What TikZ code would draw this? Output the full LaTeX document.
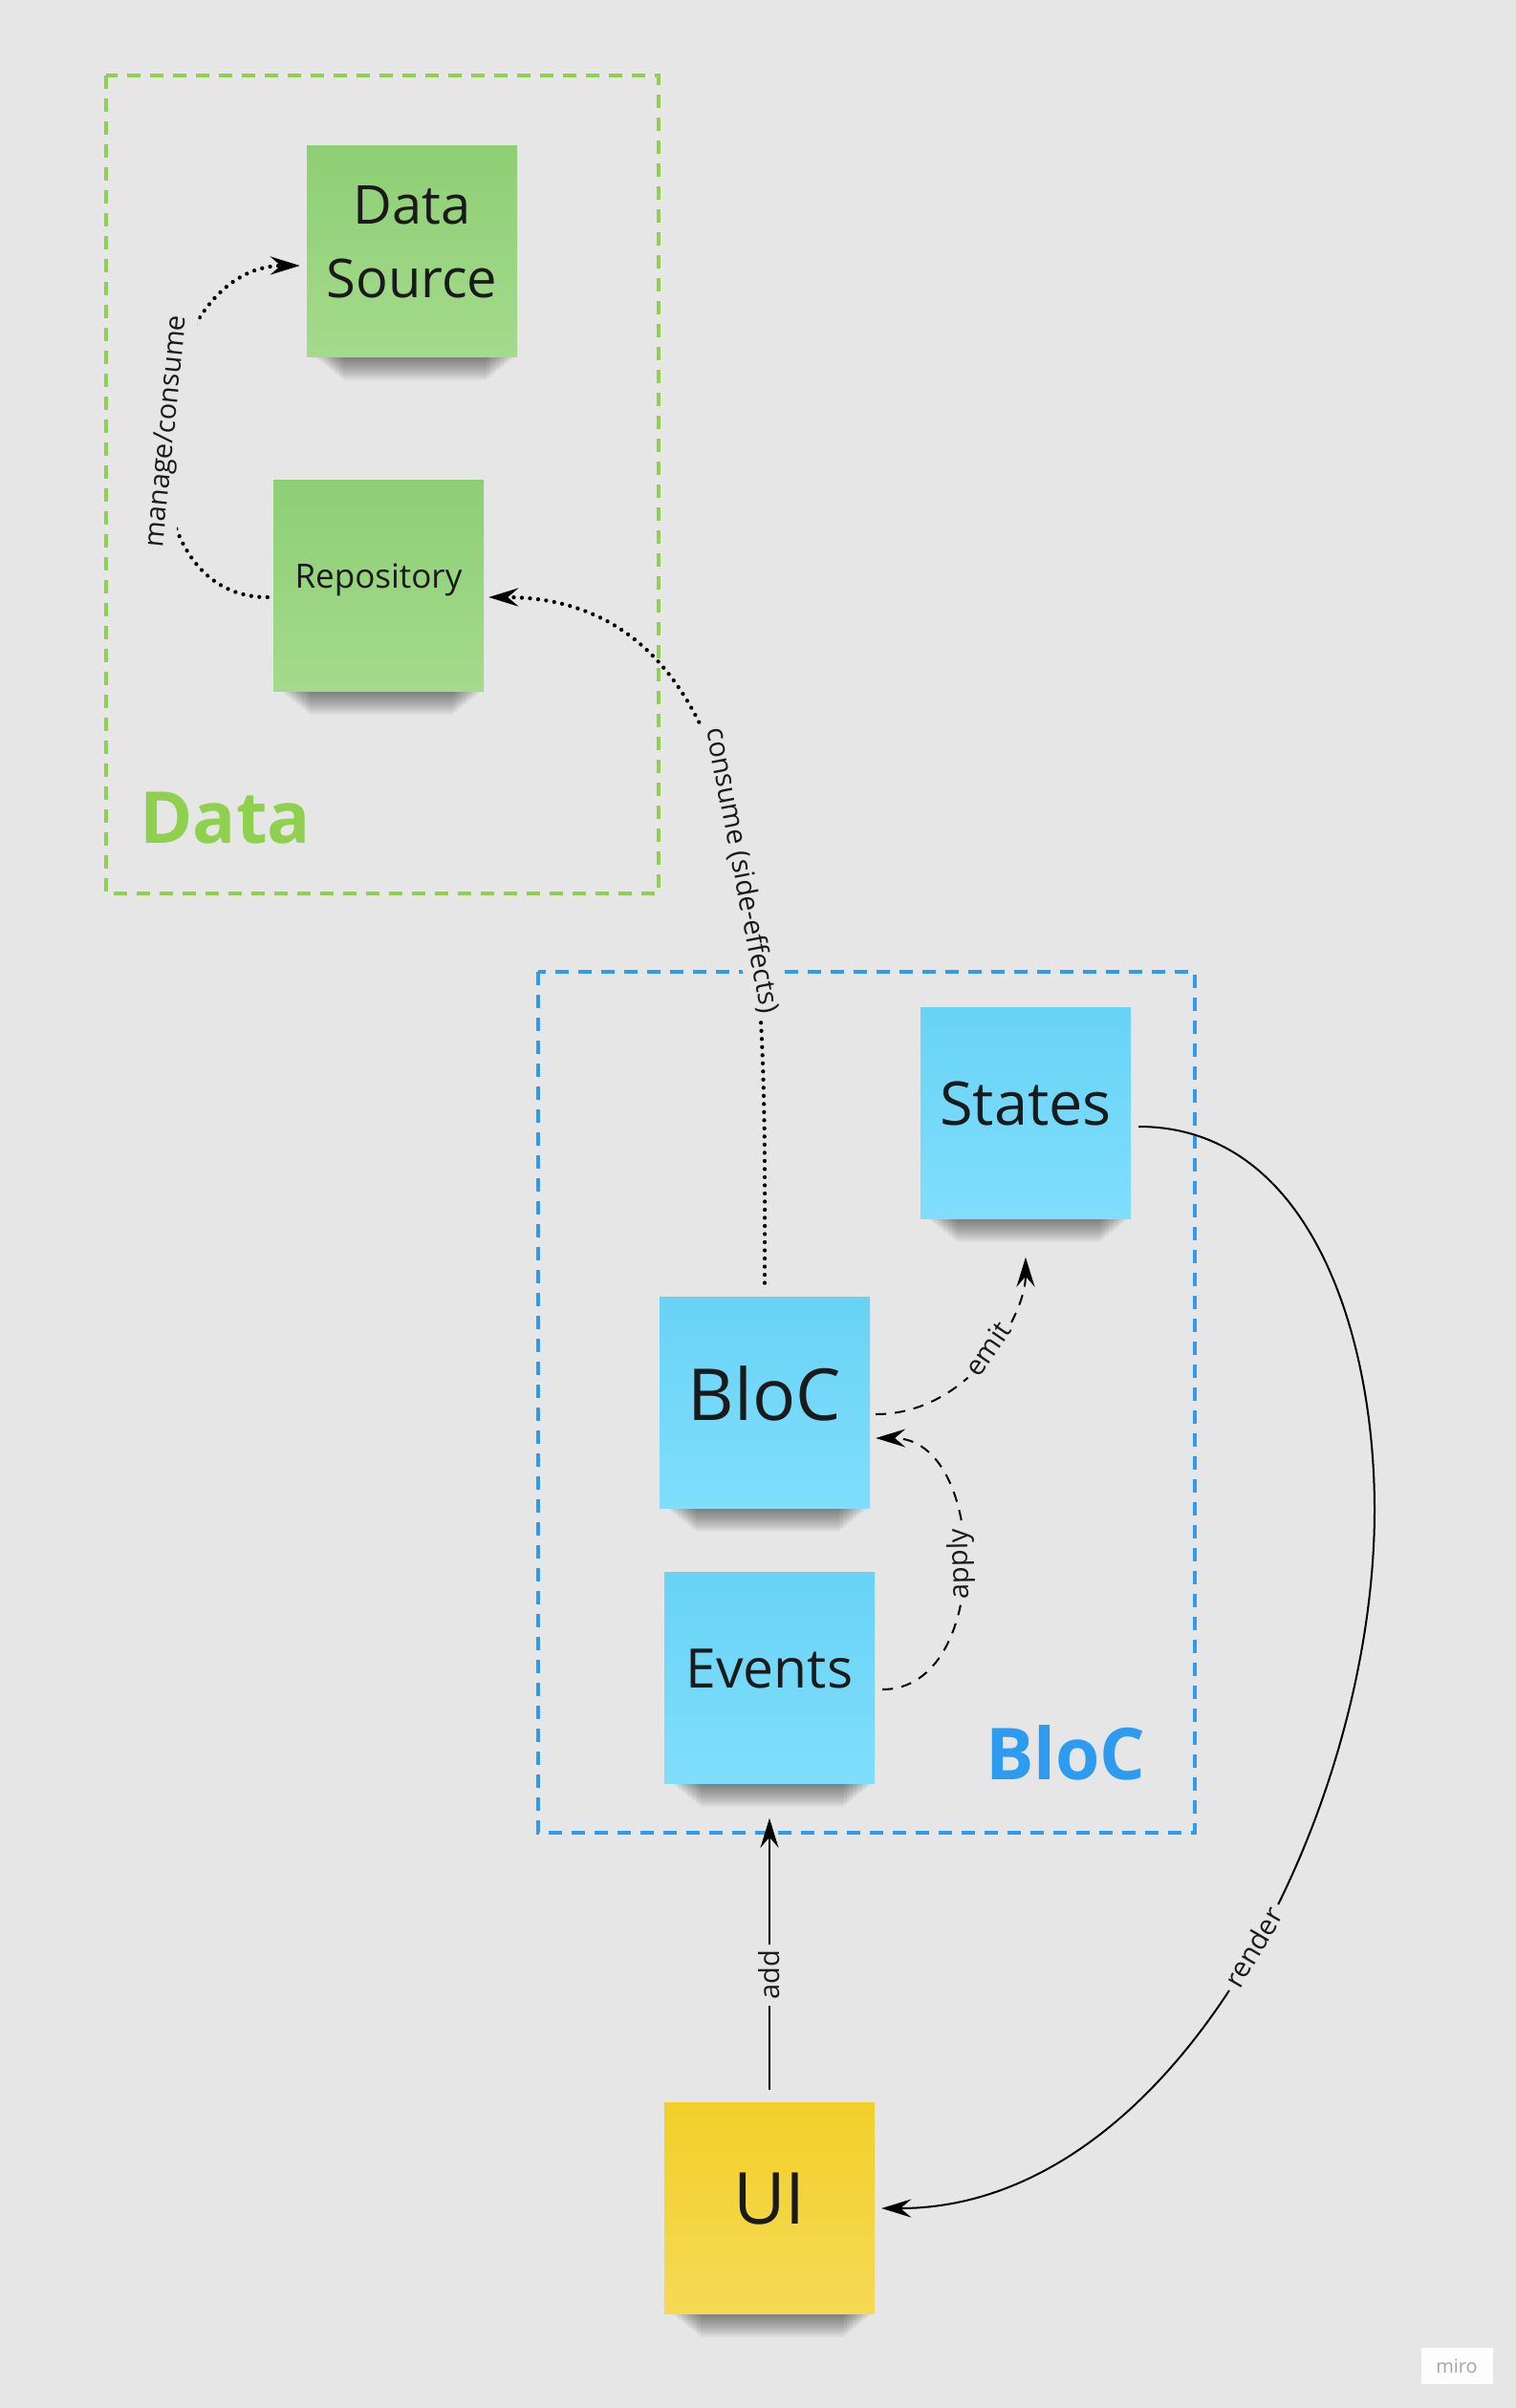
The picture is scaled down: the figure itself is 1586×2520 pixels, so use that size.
\documentclass[tikz,border=0pt]{standalone}
\usepackage{fontspec}
\setmainfont{Open Sans}
\usetikzlibrary{arrows.meta}

\definecolor{board}{HTML}{E6E6E6}
\definecolor{ink}{HTML}{1A1A1A}
\definecolor{greentop}{HTML}{8ECF75}
\definecolor{greenbot}{HTML}{A4DA8C}
\definecolor{bluetop}{HTML}{68D3F6}
\definecolor{bluebot}{HTML}{80DEFC}
\definecolor{yellowtop}{HTML}{F2CF2A}
\definecolor{yellowbot}{HTML}{F6DA55}
\definecolor{datagreen}{HTML}{8FD14F}
\definecolor{blocblue}{HTML}{2D9BF0}

\begin{document}
\begin{tikzpicture}[
  x = 1pt,
  y = 1pt,
  note/.style = {
    shape = rectangle,
    minimum width = 220pt,
    minimum height = 221pt,
    inner sep = 0pt,
    align = center,
    text = ink,
    text depth = 20pt,
  },
  greennote/.style = {note, top color = greentop, bottom color = greenbot},
  bluenote/.style = {note, top color = bluetop, bottom color = bluebot},
  yellownote/.style = {note, top color = yellowtop, bottom color = yellowbot},
  frame/.style = {
    line width = 3.5pt,
    dash pattern = on 14pt off 10pt
  },
  link/.style = {
    line width = 2pt,
    -{Stealth[length = 31pt, width = 19pt, inset = 11pt]}
  },
  backlink/.style = {
    line width = 2pt,
    {Stealth[length = 31pt, width = 19pt, inset = 11pt]}-
  },
  dots/.style = {
    line width = 4.3pt,
    line cap = round,
    dash pattern = on 0.01pt off 8.5pt
  },
  dashes/.style = {
    dash pattern = on 11pt off 9pt
  },
  lbl/.style = {
    font = \fontsize{29}{34}\selectfont,
    text = ink,
    fill = board,
    inner sep = 6pt,
    sloped
  }
]
  \useasboundingbox[fill = board] (0, 0) rectangle (1586, -2520);

  % the two groups
  \draw[frame, datagreen] (111, -79) rectangle (689, -935);
  \draw[frame, blocblue] (563, -1017) rectangle (1250, -1918);

  \node[anchor = base west, inner sep = 0pt, text = datagreen,
    font = \fontsize{75}{80}\selectfont\bfseries] (datatitle) at (146, -882) {Data};
  \node[anchor = base west, inner sep = 0pt, text = blocblue,
    font = \fontsize{75}{80}\selectfont\bfseries] (bloctitle) at (1031, -1862) {BloC};

  % sticky notes
  \node[greennote, font = \fontsize{56}{77}\selectfont] (ds) at (431, -263) {Data\\Source};
  \node[greennote, font = \fontsize{35}{40}\selectfont] (repo) at (396, -613) {Repository};
  \node[bluenote, font = \fontsize{63}{70}\selectfont] (states) at (1073, -1165) {States};
  \node[bluenote, font = \fontsize{75}{80}\selectfont] (bloc) at (800, -1468) {BloC};
  \node[bluenote, font = \fontsize{57}{64}\selectfont] (events) at (805, -1756) {Events};
  \node[yellownote, font = \fontsize{75}{80}\selectfont] (ui) at (805, -2311) {UI};

  % soft shadow under each note
  \foreach \n in {ds, repo, states, bloc, events, ui}
    \foreach \k in {1, ..., 12}
      \fill[black, opacity = 0.045]
        ([xshift = {(8 + 2.5*\k)*1pt}]\n.south west) rectangle
        ([xshift = {(-2 - 2.5*\k)*1pt}, yshift = {-2*\k*1pt}]\n.south east);

  % connectors
  \draw[link, dots, shorten < = 6pt, shorten > = 7pt]
    ([yshift = -12pt]repo.west) to[out = 180, in = 180, looseness = 1.25]
    node[lbl] {manage/consume} ([yshift = -15pt]ds.west);

  \draw[backlink, dots, shorten < = 5pt, shorten > = 11pt]
    ([yshift = -12pt]repo.east) to[out = 0, in = 90]
    node[lbl, pos = 0.54] {consume (side-effects)} (bloc.north);

  \draw[link, dashes, shorten < = 6pt, shorten > = 40pt]
    ([yshift = -12pt]bloc.east) to[out = 0, in = -90]
    node[lbl, pos = 0.52] {emit} (states.south);

  \draw[link, dashes, shorten < = 8pt, shorten > = 6pt]
    ([yshift = -12pt]events.east) to[out = 0, in = 0, looseness = 1.2]
    node[lbl, pos = 0.5, allow upside down] {apply} ([yshift = -37pt]bloc.east);

  \draw[link, shorten < = 13pt, shorten > = 36pt]
    (ui.north) -- node[lbl, pos = 0.4] {add} (events.south);

  \coordinate (rendermid) at (1438, -1580);
  \draw[link, shorten < = 8pt, shorten > = 7pt]
    ([yshift = -14pt]states.east) to[out = 0, in = 90] (rendermid)
    to[out = -90, in = 0, looseness = 0.9] node[lbl, pos = 0.47] {render} (ui.east);

  % board watermark
  \node[fill = white!93!board, text = black!35, minimum width = 75pt,
    minimum height = 38pt, font = \fontsize{20}{24}\selectfont] (miro) at (1524, -2476) {miro};
\end{tikzpicture}
\end{document}
